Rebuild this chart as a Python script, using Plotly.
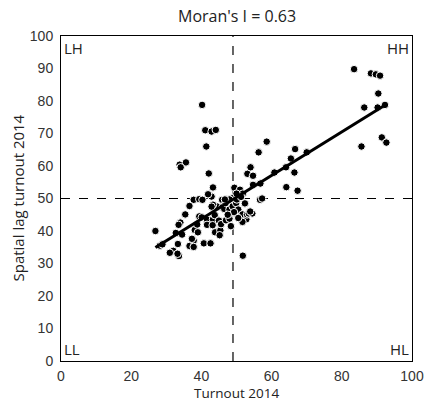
import plotly.graph_objects as go

turnout = [83.5, 88.3, 89.7, 90.9, 90.4, 86.4, 90.2, 92.3, 91.4, 92.7, 85.6,
           40.2, 41.1, 42.9, 44.1, 41.4, 33.8, 35.6, 34.1, 42.1,
           58.6, 56.3, 66.7, 65.5, 70.0, 54.0, 53.1, 54.7, 64.1, 66.5, 60.8,
           56.8, 54.7, 64.2, 67.4, 43.3, 49.4, 51.0, 51.8, 56.7, 57.3,
           42.9, 41.9, 37.8, 39.4, 40.3, 36.6, 35.4, 34.0, 33.5, 26.9, 32.7, 34.5,
           28.2, 28.9, 33.3, 32.0, 31.0, 33.6, 33.2, 36.6, 37.8, 37.3, 37.8,
           38.1, 39.0, 38.8, 39.4, 40.1, 40.7, 42.6, 41.6, 43.3, 41.6, 43.2,
           43.9, 45.4, 45.2, 43.8, 44.6, 46.0, 45.9, 47.2, 43.3, 42.9, 46.5, 46.9,
           45.0, 45.6, 47.0, 48.0, 48.4, 48.7, 48.0, 48.9, 49.9, 50.5, 49.3,
           51.7, 52.8, 53.0, 51.7, 53.5, 54.5, 53.9, 51.8, 49.1, 50.1, 48.0,
           46.7, 51.3, 50.0, 52.4, 47.5, 50.5]
lag = [89.8, 88.5, 88.2, 87.8, 82.3, 78.0, 78.0, 78.8, 68.8, 67.2, 66.0,
       78.8, 71.0, 70.6, 71.1, 66.0, 60.4, 61.1, 59.6, 57.7,
       67.5, 64.2, 65.2, 62.3, 64.2, 59.6, 57.6, 57.0, 59.6, 58.0, 58.0,
       54.6, 54.2, 53.5, 52.4, 53.4, 53.3, 52.7, 51.5, 49.6, 50.0,
       50.6, 51.3, 49.6, 49.8, 49.6, 47.7, 45.1, 42.6, 41.9, 40.0, 39.4, 38.9,
       35.5, 35.9, 36.0, 33.9, 33.3, 32.3, 33.0, 35.4, 37.0, 37.6, 35.1,
       40.3, 39.6, 42.0, 44.5, 44.2, 36.2, 36.2, 43.5, 43.6, 41.9, 41.8,
       39.6, 40.2, 38.7, 44.9, 47.5, 47.3, 49.6, 49.8, 48.1, 47.5, 46.8, 48.6,
       43.2, 42.1, 43.3, 43.8, 41.5, 45.5, 46.6, 47.6, 48.6, 46.6, 45.8,
       45.1, 43.6, 45.1, 42.8, 45.4, 45.4, 46.0, 32.4, 50.2, 49.7, 49.7,
       49.7, 50.5, 51.5, 48.5, 45.0, 44.0]

fit_intercept = 16.9
fit_slope = 0.67
mean_turnout = 49.0
mean_lag = 50.0
x_ticks = [0, 20, 40, 60, 80, 100]
y_ticks = [0, 10, 20, 30, 40, 50, 60, 70, 80, 90, 100]
quadrants = ["LH", "HH", "LL", "HL"]
chart_title = "Moran's I = 0.63"
x_title = "Turnout 2014"
y_title = "Spatial lag turnout 2014"

title_font = "Open Sans, Noto Sans, sans-serif"
tick_font = "Liberation Sans, Arial, sans-serif"
txt = "#222"

fit_x = [min(turnout), max(turnout)]
fit_y = [fit_intercept + fit_slope * v for v in fit_x]

fig = go.Figure()
fig.add_trace(go.Scatter(
    x=turnout, y=lag, mode="markers",
    marker=dict(size=7.5, color="black", line=dict(color="white", width=1)),
    showlegend=False, hoverinfo="skip"))
fig.add_trace(go.Scatter(
    x=fit_x, y=fit_y, mode="lines",
    line=dict(color="black", width=3), showlegend=False, hoverinfo="skip"))

fig.add_shape(type="line", x0=mean_turnout, x1=mean_turnout, y0=0, y1=100,
              xref="x", yref="y", line=dict(color="black", width=1.2, dash="dash"), layer="below")
fig.add_shape(type="line", x0=0, x1=100, y0=mean_lag, y1=mean_lag,
              xref="x", yref="y", line=dict(color="black", width=1.2, dash="dash"), layer="below")

pos = {"LH": (0, 1, "left", "top"), "HH": (1, 1, "right", "top"),
       "LL": (0, 0, "left", "bottom"), "HL": (1, 0, "right", "bottom")}
for q in quadrants:
    px, py, xa, ya = pos[q]
    fig.add_annotation(x=px, y=py, xref="x domain", yref="y domain", text=q,
                       showarrow=False, xanchor=xa, yanchor=ya, xshift=1 if px == 0 else -1,
                       yshift=0, font=dict(family=title_font, size=15, color=txt))

# titles
fig.add_annotation(x=0.5, y=1, xref="paper", yref="paper", text=chart_title, showarrow=False,
                   xanchor="center", yanchor="middle", yshift=20,
                   font=dict(family=title_font, size=16, color=txt))
fig.add_annotation(x=0.5, y=0, xref="paper", yref="paper", text=x_title, showarrow=False,
                   xanchor="center", yanchor="middle", yshift=-32,
                   font=dict(family=title_font, size=13.5, color=txt))
fig.add_annotation(x=0, y=0.5, xref="paper", yref="paper", text=y_title, showarrow=False,
                   xanchor="center", yanchor="middle", xshift=-44, textangle=-90,
                   font=dict(family=title_font, size=15, color=txt))

fig.update_layout(
    width=428, height=402,
    margin=dict(l=61, r=16, t=36, b=41),
    paper_bgcolor="white", plot_bgcolor="white",
    xaxis=dict(range=[0, 100], tickvals=x_ticks, showgrid=False, zeroline=False,
               showline=True, linecolor="black", linewidth=1, mirror=True, ticks="",
               automargin=False, ticklabelstandoff=2,
               tickfont=dict(family=tick_font, size=14, color="#333")),
    yaxis=dict(range=[0, 100], tickvals=y_ticks, showgrid=False, zeroline=False,
               showline=True, linecolor="black", linewidth=1, mirror=True, ticks="",
               automargin=False, ticklabelstandoff=4,
               tickfont=dict(family=tick_font, size=14, color="#333")),
)

fig.write_html("out.html", config={"displayModeBar": False},
               post_script="document.body.style.margin='0';document.body.style.overflow='hidden';")
